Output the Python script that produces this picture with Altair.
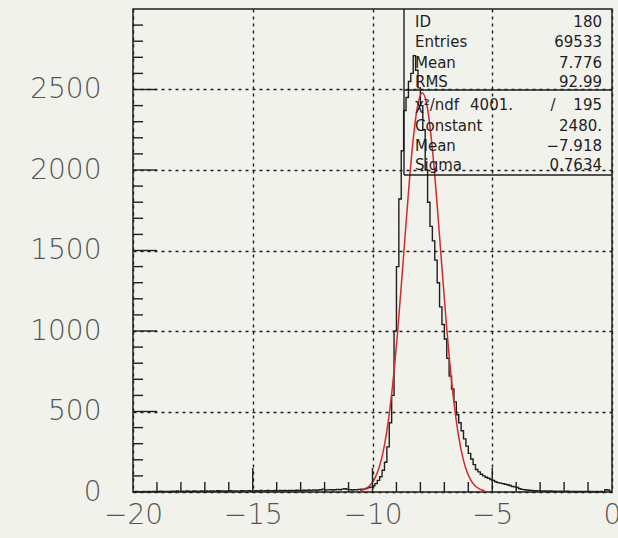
import altair as alt
import pandas as pd

# ---------------- data ----------------
# histogram counts, 200 bins of width 0.1 from -20 to 0
counts = [
    # -20.0 .. -18.6
    2, 3, 1, 2, 4, 2, 3, 2, 4, 3, 2, 5, 3, 4, 3,
    # -18.5 .. -17.1
    4, 5, 3, 6, 4, 5, 4, 6, 5, 3, 6, 5, 4, 6, 5,
    # -17.0 .. -15.1
    6, 5, 7, 6, 5, 8, 6, 7, 5, 6, 8, 7, 6, 7, 5, 8, 6, 7, 8, 6,
    # -15.0 .. -13.1
    7, 8, 6, 9, 7, 8, 10, 7, 8, 9, 7, 10, 8, 9, 8, 10, 9, 8, 11, 9,
    # -13.0 .. -11.1
    10, 11, 9, 12, 10, 13, 11, 12, 14, 18, 12, 13, 15, 12, 14, 16, 14, 18, 20, 17,
    # -11.0 .. -10.1
    15, 12, 14, 13, 16, 18, 17, 22, 28, 30,
    # -10.0 .. -9.1
    38, 52, 72, 95, 135, 185, 280, 430, 600, 1000,
    # -9.0 .. -8.1
    1400, 1820, 2120, 2370, 2450, 2550, 2600, 2710, 2620, 2510,
    # -8.0 .. -7.1
    2400, 2250, 2000, 1800, 1650, 1560, 1440, 1300, 1150, 1040,
    # -7.0 .. -6.1
    950, 830, 720, 640, 560, 480, 430, 380, 330, 285,
    # -6.0 .. -5.1
    240, 205, 170, 140, 125, 110, 100, 92, 85, 78,
    # -5.0 .. -4.1
    72, 64, 58, 55, 52, 48, 45, 40, 34, 32,
    # -4.0 .. -3.1
    28, 20, 16, 14, 12, 11, 9, 8, 8, 7,
    # -3.0 .. -2.1
    7, 6, 6, 5, 6, 5, 5, 4, 5, 4,
    # -2.0 .. -1.1
    4, 5, 4, 3, 4, 3, 4, 3, 3, 4,
    # -1.0 .. -0.1
    3, 3, 2, 3, 2, 3, 2, 14, 12, 3,
]
bin_start = -20.0
bin_width = 0.1

# red fitted curve
fit_x = [-10.52, -10.32, -10.12, -9.92, -9.72, -9.52, -9.32, -9.12, -8.92,
         -8.72, -8.52, -8.32, -8.12, -7.92, -7.72, -7.52, -7.32, -7.12,
         -6.92, -6.72, -6.52, -6.32, -6.12, -5.92, -5.72, -5.52, -5.32]
fit_y = [7.5, 18, 39, 80, 154, 276, 462, 721, 1052,
         1432, 1821, 2162, 2396, 2480, 2396, 2162, 1821, 1432,
         1052, 721, 462, 276, 154, 80, 39, 18, 7.5]

# statistics box
stat_labels = ["ID", "Entries", "Mean", "RMS"]
stat_values = ["180", "69533", "7.776", "92.99"]
fit_labels = ["χ²/ndf", "Constant", "Mean", "Sigma"]
fit_values = ["195", "2480.", "−7.918", "0.7634"]
chi2_value = "4001."

# axes
x_major = [-20, -15, -10, -5, 0]
x_minor = [-19, -18, -17, -16, -14, -13, -12, -11, -9, -8, -7, -6, -4, -3, -2, -1]
y_major = [0, 500, 1000, 1500, 2000, 2500]
y_minor = [100, 200, 300, 400, 600, 700, 800, 900, 1100, 1200, 1300, 1400,
           1600, 1700, 1800, 1900, 2100, 2200, 2300, 2400, 2600, 2700, 2800, 2900]
x_domain = [-20, 0]
y_domain = [0, 3000]

# ---------------- chart ----------------
W, H = 479, 483
INK = "#1e1e1e"
FONT = "DejaVu Sans"

edges = [round(bin_start + i * bin_width, 2) for i in range(len(counts))]
hist_df = pd.DataFrame({"x": edges + [round(bin_start + len(counts) * bin_width, 2)],
                        "n": counts + [counts[-1]]})
fit_df = pd.DataFrame({"x": fit_x, "n": fit_y})

xs = alt.Scale(domain=x_domain, nice=False, zero=False)
ys = alt.Scale(domain=y_domain, nice=False)

x_axis = alt.Axis(values=x_major, title=None, grid=True, gridDash=[3, 4],
                  gridColor=INK, gridWidth=1.4, ticks=False, domain=False,
                  format="d",
                  labelFontSize=28, labelColor="#555", labelFont=FONT,
                  labelFontWeight=200, labelPadding=9, labelFlush=False)
y_axis = alt.Axis(values=y_major, title=None, grid=True, gridDash=[3, 4],
                  gridColor=INK, gridWidth=1.4, ticks=False, domain=False,
                  format="d",
                  labelFontSize=28, labelColor="#555", labelFont=FONT,
                  labelFontWeight=200, labelPadding=32)


def X(field):
    return alt.X(field, scale=xs, axis=x_axis, title=None)


def Y(field):
    return alt.Y(field, scale=ys, axis=y_axis, title=None)


hist = alt.Chart(hist_df).mark_line(interpolate="step-after", color=INK, strokeWidth=1.4).encode(
    x=X("x:Q"), y=Y("n:Q"))

fit = alt.Chart(fit_df).mark_line(interpolate="monotone", color="#d8282a", strokeWidth=1.5).encode(
    x=X("x:Q"), y=Y("n:Q"))

# inward ticks
xminor = alt.Chart(pd.DataFrame({"x": x_minor})).mark_rule(color=INK, strokeWidth=1.4).encode(
    x=X("x:Q"), y=alt.value(H), y2=alt.value(H - 10))
xmajor = alt.Chart(pd.DataFrame({"x": x_major[1:-1]})).mark_rule(color=INK, strokeWidth=1.4).encode(
    x=X("x:Q"), y=alt.value(H), y2=alt.value(H - 24))
yminor = alt.Chart(pd.DataFrame({"n": y_minor})).mark_rule(color=INK, strokeWidth=1.4).encode(
    y=Y("n:Q"), x=alt.value(0), x2=alt.value(10))
ymajor = alt.Chart(pd.DataFrame({"n": y_major[1:]})).mark_rule(color=INK, strokeWidth=1.4).encode(
    y=Y("n:Q"), x=alt.value(0), x2=alt.value(24))

# statistics box
one = alt.Data(values=[{"k": 0}])
box_left, box_bottom, box_mid = 271, 166, 81
box_lines = [
    alt.Chart(one).mark_rule(color=INK, strokeWidth=1.4).encode(
        x=alt.value(box_left), y=alt.value(0), y2=alt.value(box_bottom)),
    alt.Chart(one).mark_rule(color=INK, strokeWidth=1.4).encode(
        x=alt.value(box_left), x2=alt.value(W), y=alt.value(box_bottom)),
    alt.Chart(one).mark_rule(color=INK, strokeWidth=1.4).encode(
        x=alt.value(box_left), x2=alt.value(W), y=alt.value(box_mid)),
]

row_y_top = [13, 33, 54, 73]
row_y_fit = [96, 117, 137, 156]
texts = []
for labels, values, rows in ((stat_labels, stat_values, row_y_top),
                             (fit_labels, fit_values, row_y_fit)):
    for lab, val, ry in zip(labels, values, rows):
        texts.append(alt.Chart(alt.Data(values=[{"t": lab}])).mark_text(
            align="left", baseline="middle", font=FONT, fontSize=15, color=INK).encode(
            x=alt.value(282), y=alt.value(ry), text="t:N"))
        texts.append(alt.Chart(alt.Data(values=[{"t": val}])).mark_text(
            align="right", baseline="middle", font=FONT, fontSize=15, color=INK).encode(
            x=alt.value(469), y=alt.value(ry), text="t:N"))
texts.append(alt.Chart(alt.Data(values=[{"t": chi2_value}])).mark_text(
    align="right", baseline="middle", font=FONT, fontSize=15, color=INK).encode(
    x=alt.value(380), y=alt.value(row_y_fit[0]), text="t:N"))
texts.append(alt.Chart(alt.Data(values=[{"t": "/"}])).mark_text(
    align="center", baseline="middle", font=FONT, fontSize=15, color=INK).encode(
    x=alt.value(420), y=alt.value(row_y_fit[0]), text="t:N"))

chart = alt.layer(hist, fit, xminor, xmajor, yminor, ymajor, *box_lines, *texts).properties(
    width=W, height=H,
    autosize=alt.AutoSizeParams(type="none"),
    padding={"left": 133, "top": 9, "right": 6, "bottom": 46},
    background="#f2f2ed",
).configure_view(stroke=INK, strokeWidth=1.5, fill=None)

chart.save("out.html", embed_options={"renderer": "svg", "actions": False})
